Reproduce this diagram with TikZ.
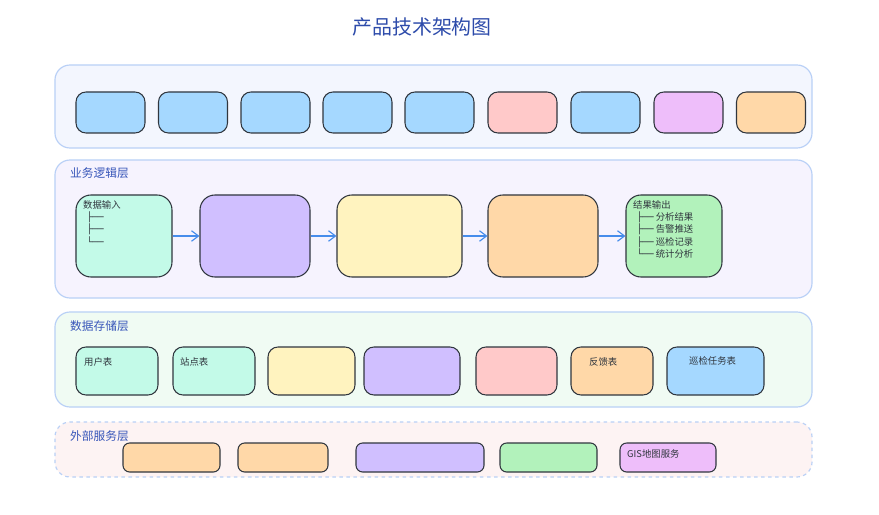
\documentclass[tikz,border=0pt]{standalone}
\usepackage{fontspec}
\setmainfont{Noto Sans CJK SC}
\newfontfamily\treefont{DejaVu Sans Mono}
\usepackage{xcolor}
\definecolor{archtitle}{RGB}{45,75,170}
\definecolor{archlabel}{RGB}{55,85,185}
\definecolor{archedge}{RGB}{48,54,62}
\definecolor{archarrow}{RGB}{70,140,235}
\definecolor{layerline}{RGB}{185,208,246}
\definecolor{layerblue}{RGB}{243,246,254}
\definecolor{layerlav}{RGB}{246,243,254}
\definecolor{layergreen}{RGB}{240,251,243}
\definecolor{layerpink}{RGB}{253,243,243}
\definecolor{xblue}{HTML}{A5D8FF}
\definecolor{xpink}{HTML}{FFC9C9}
\definecolor{xpurple}{HTML}{EEBEFA}
\definecolor{xorange}{HTML}{FFD8A8}
\definecolor{xmint}{HTML}{C3FAE8}
\definecolor{xlav}{HTML}{D0BFFF}
\definecolor{xyellow}{HTML}{FFF3BF}
\definecolor{xgreen}{HTML}{B2F2BB}
\usetikzlibrary{arrows.meta}

\begin{document}
\begin{tikzpicture}[
    x=0.03cm, y=-0.03cm,
    layerbox/.style={rectangle, rounded corners=0.45cm, draw=layerline, line width=1pt,
                     minimum width=22.71cm},
    layerlbl/.style={anchor=west, font=\fontsize{10}{12}\selectfont, text=archlabel, inner sep=0pt},
    uibox/.style={rectangle, rounded corners=0.3cm, draw=archedge, line width=0.9pt,
                  minimum width=2.07cm, minimum height=1.23cm},
    procbox/.style={rectangle, rounded corners=0.45cm, draw=archedge, line width=0.9pt,
                    minimum height=2.46cm},
    tablebox/.style={rectangle, rounded corners=0.3cm, draw=archedge, line width=0.9pt,
                     minimum height=1.44cm},
    extbox/.style={rectangle, rounded corners=0.2cm, draw=archedge, line width=0.9pt,
                   minimum height=0.87cm},
    boxtxt/.style={font=\fontsize{8}{10.5}\selectfont, text=archedge, align=left, inner sep=0pt},
    flowarr/.style={-{Straight Barb[length=6pt, width=9pt]}, archarrow, line width=1pt}
  ]
    \useasboundingbox (0,0) rectangle (879,515);

    % Title
    \node[anchor=east, font=\fontsize{17}{20}\selectfont, text=archtitle, inner sep=0pt]
      (title) at (492,27) {产品技术架构图};

    % Layers
    \node[layerbox, fill=layerblue,  minimum height=2.49cm] (l1) at (433.5,106.5) {};
    \node[layerbox, fill=layerlav,   minimum height=4.14cm] (l2) at (433.5,229) {};
    \node[layerbox, fill=layergreen, minimum height=2.85cm] (l3) at (433.5,359.5) {};
    \node[layerbox, fill=layerpink,  minimum height=1.65cm, dashed] (l4) at (433.5,449.5) {};

    % Top layer modules
    \node[uibox, fill=xblue]   (u1) at (110.5,112.5) {};
    \node[uibox, fill=xblue]   (u2) at (193,112.5) {};
    \node[uibox, fill=xblue]   (u3) at (275.5,112.5) {};
    \node[uibox, fill=xblue]   (u4) at (357.5,112.5) {};
    \node[uibox, fill=xblue]   (u5) at (439.5,112.5) {};
    \node[uibox, fill=xpink]   (u6) at (522.5,112.5) {};
    \node[uibox, fill=xblue]   (u7) at (605.5,112.5) {};
    \node[uibox, fill=xpurple] (u8) at (688.5,112.5) {};
    \node[uibox, fill=xorange] (u9) at (771,112.5) {};

    % Business logic layer
    \node[layerlbl] (l2lbl) at (70,173) {业务逻辑层};
    \node[procbox, fill=xmint,   minimum width=2.88cm] (in)  at (124,236) {};
    \node[procbox, fill=xlav,    minimum width=3.30cm] (p2)  at (255,236) {};
    \node[procbox, fill=xyellow, minimum width=3.75cm] (p3)  at (399.5,236) {};
    \node[procbox, fill=xorange, minimum width=3.30cm] (p4)  at (543,236) {};
    \node[procbox, fill=xgreen,  minimum width=2.88cm] (out) at (674,236) {};
    \draw[flowarr] (in)  -- (p2);
    \draw[flowarr] (p2)  -- (p3);
    \draw[flowarr] (p3)  -- (p4);
    \draw[flowarr] (p4)  -- (out);

    \node[boxtxt, anchor=north west] (intxt) at (83,200)
      {数据输入\\\hspace*{3pt}{\treefont ├──}\\\hspace*{3pt}{\treefont ├──}\\\hspace*{3pt}{\treefont └──}};
    \node[boxtxt, anchor=north west] (outtxt) at (633,200)
      {结果输出\\\hspace*{3pt}{\treefont ├──} 分析结果\\\hspace*{3pt}{\treefont ├──} 告警推送\\
       \hspace*{3pt}{\treefont ├──} 巡检记录\\\hspace*{3pt}{\treefont └──} 统计分析};

    % Data storage layer
    \node[layerlbl] (l3lbl) at (70,326) {数据存储层};
    \node[tablebox, fill=xmint,   minimum width=2.46cm] (t1) at (117,371) {};
    \node[tablebox, fill=xmint,   minimum width=2.46cm] (t2) at (214,371) {};
    \node[tablebox, fill=xyellow, minimum width=2.61cm] (t3) at (311.5,371) {};
    \node[tablebox, fill=xlav,    minimum width=2.88cm] (t4) at (412,371) {};
    \node[tablebox, fill=xpink,   minimum width=2.43cm] (t5) at (516.5,371) {};
    \node[tablebox, fill=xorange, minimum width=2.46cm] (t6) at (612,371) {};
    \node[tablebox, fill=xblue,   minimum width=2.91cm] (t7) at (715.5,371) {};
    \node[boxtxt, anchor=west] (t1txt) at (84,362)  {用户表};
    \node[boxtxt, anchor=west] (t2txt) at (180,362) {站点表};
    \node[boxtxt, anchor=west] (t6txt) at (589,362) {反馈表};
    \node[boxtxt, anchor=west] (t7txt) at (689,361) {巡检任务表};

    % External services layer
    \node[layerlbl] (l4lbl) at (70,436) {外部服务层};
    \node[extbox, fill=xorange, minimum width=2.91cm] (e1) at (171.5,457.5) {};
    \node[extbox, fill=xorange, minimum width=2.70cm] (e2) at (283,457.5) {};
    \node[extbox, fill=xlav,    minimum width=3.84cm] (e3) at (420,457.5) {};
    \node[extbox, fill=xgreen,  minimum width=2.91cm] (e4) at (548.5,457.5) {};
    \node[extbox, fill=xpurple, minimum width=2.88cm] (gis) at (668,457.5) {};
    \node[boxtxt, anchor=west] (gistxt) at (627,454) {GIS地图服务};
  \end{tikzpicture}
\end{document}
